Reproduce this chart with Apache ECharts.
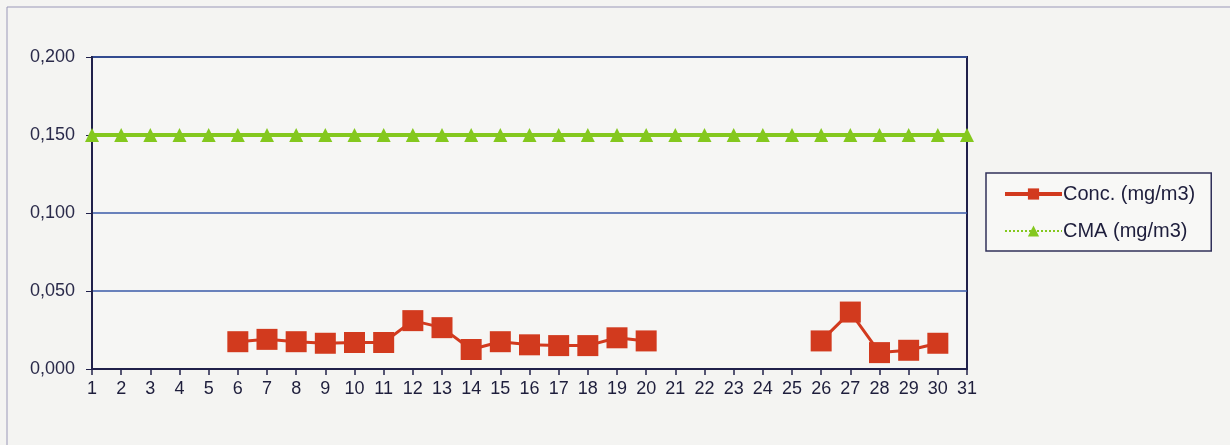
<!DOCTYPE html>
<html lang="en">
<head>
    <meta charset="UTF-8">
    <title>Conc. vs CMA</title>
    <script src="https://cdn.jsdelivr.net/npm/echarts@6/dist/echarts.min.js"></script>
</head>
<body style="margin:0;background:#f4f4f2">
<div id="main" style="width: 1230px;height: 445px"></div>
<script type="text/javascript">
  // days of the month
  var days = [];
  for (var d = 1; d <= 31; d++) days.push(String(d));

  // measured concentration (mg/m3), null = no measurement
  var conc = [null, null, null, null, null,
    0.0175, 0.019, 0.0175, 0.0165, 0.017, 0.017, 0.031, 0.0265, 0.0125, 0.0175,
    0.0155, 0.015, 0.015, 0.020, 0.018,
    null, null, null, null, null,
    0.018, 0.0365, 0.0105, 0.012, 0.0165, null];

  // limit value (mg/m3)
  var cma = [0.15, 0.15, 0.15, 0.15, 0.15, 0.15, 0.15, 0.15, 0.15, 0.15,
    0.15, 0.15, 0.15, 0.15, 0.15, 0.15, 0.15, 0.15, 0.15, 0.15,
    0.15, 0.15, 0.15, 0.15, 0.15, 0.15, 0.15, 0.15, 0.15, 0.15, 0.15];

  var myChart = echarts.init(document.getElementById('main'));
  var option = {
    backgroundColor: '#f4f4f2',
    animation: false,
    textStyle: {fontFamily: 'Liberation Sans, Arial, sans-serif'},
    graphic: [{
      type: 'rect',
      shape: {x: 7, y: 7, width: 1300, height: 500},
      style: {fill: 'none', stroke: '#9a98b8', lineWidth: 1}
    }],
    grid: {
      left: 92, right: 263, top: 57, bottom: 76,
      show: true, borderColor: '#20204a', borderWidth: 2, backgroundColor: '#f6f6f4'
    },
    legend: {
      orient: 'vertical',
      left: 986, top: 173,
      padding: [11, 16, 10, 17],
      itemGap: 17,
      itemWidth: 57,
      itemHeight: 14,
      borderColor: '#30305a',
      borderWidth: 1.5,
      backgroundColor: '#f8f8f6',
      textStyle: {fontSize: 20, color: '#1e1e3c', padding: [0, 0, 0, -4]},
      data: [
        {name: 'Conc. (mg/m3)', lineStyle: {width: 4}},
        {name: 'CMA (mg/m3)', lineStyle: {width: 2, type: 'dotted'}}
      ]
    },
    xAxis: {
      type: 'category',
      data: days,
      boundaryGap: false,
      axisLine: {lineStyle: {color: '#20204a', width: 2}},
      axisTick: {show: true, length: 6, lineStyle: {color: '#20204a', width: 1.5}},
      axisLabel: {
        fontSize: 18, color: '#1e1e3c', margin: 11, interval: 0,
        fontFamily: 'Liberation Sans Narrow, Liberation Sans, sans-serif'
      }
    },
    yAxis: {
      type: 'value',
      min: 0,
      max: 0.2,
      interval: 0.05,
      axisLine: {show: true, lineStyle: {color: '#20204a', width: 2}},
      axisTick: {show: true, length: 6, lineStyle: {color: '#20204a'}},
      splitLine: {lineStyle: {color: '#3a5aa8', width: 1.5}},
      axisLabel: {
        fontSize: 18, color: '#2a2a4a', margin: 17,
        formatter: function (v) { return v.toFixed(3).replace('.', ','); }
      }
    },
    series: [{
      name: 'Conc. (mg/m3)',
      type: 'line',
      data: conc,
      symbol: 'rect',
      symbolSize: 21,
      lineStyle: {color: '#d23a1e', width: 3},
      itemStyle: {color: '#d23a1e'},
      connectNulls: false
    }, {
      name: 'CMA (mg/m3)',
      type: 'line',
      data: cma,
      symbol: 'triangle',
      symbolSize: 14,
      lineStyle: {color: '#84c81e', width: 4},
      itemStyle: {color: '#84c81e'}
    }]
  };
  myChart.setOption(option);
</script>
</body>
</html>
